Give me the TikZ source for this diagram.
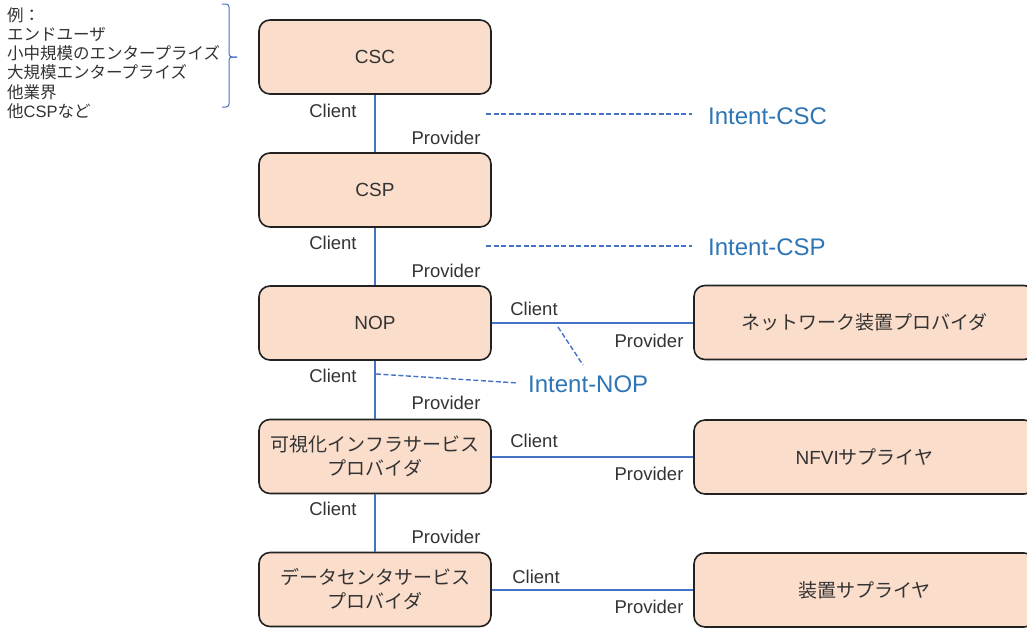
\documentclass[tikz,border=0pt]{standalone}
\usepackage{fontspec}
\setmainfont{Liberation Sans}
\newfontfamily\jp{Noto Sans CJK JP}
\definecolor{boxfill}{HTML}{FBDDCB}
\definecolor{boxline}{HTML}{222222}
\definecolor{linkblue}{HTML}{4472C4}
\definecolor{intentblue}{HTML}{2E75B6}
\definecolor{txt}{HTML}{333333}
\begin{document}
\begin{tikzpicture}[x=1pt,y=-1pt,
  actor/.style={draw=boxline, line width=1.6pt, fill=boxfill, rounded corners=11pt,
    minimum width=232pt, minimum height=74pt, inner sep=0pt, align=center,
    text=txt, font=\fontsize{19}{24}\selectfont},
  supplier/.style={actor, minimum width=341pt},
  link/.style={draw=linkblue, line width=1.6pt},
  intent/.style={draw=linkblue, line width=1.4pt, dash pattern=on 5pt off 2.5pt},
  role/.style={text=txt, inner sep=0pt, font=\fontsize{18.5}{22}\selectfont},
  intentlabel/.style={text=intentblue, inner sep=0pt, anchor=west, font=\fontsize{24}{28}\selectfont}]
\useasboundingbox (0,0) rectangle (1027,627);
\clip (0,0) rectangle (1027,627);

% provider chain
\node[actor] (csc) at (375,57) {CSC};
\node[actor] (csp) at (375,190) {CSP};
\node[actor] (nop) at (375,323) {NOP};
\node[actor] (vip) at (375,456.5) {{\jp 可視化インフラサービス}\\{\jp プロバイダ}};
\node[actor] (dcp) at (375,589.5) {{\jp データセンタサービス}\\{\jp プロバイダ}};

% suppliers
\node[supplier] (nep) at (864.5,322.5) {\jp ネットワーク装置プロバイダ};
\node[supplier] (nfvi) at (864.5,457) {NFVI{\jp サプライヤ}};
\node[supplier] (eqs) at (864.5,590) {\jp 装置サプライヤ};

% client/provider links
\draw[link] (csc) -- (csp);
\draw[link] (csp) -- (nop);
\draw[link] (nop) -- (vip);
\draw[link] (vip) -- (dcp);
\draw[link] (nop.east) -- (nop.east -| nep.west);
\draw[link] (vip.east |- nfvi.west) -- (nfvi.west);
\draw[link] (dcp.east |- eqs.west) -- (eqs.west);

% role labels
\node[role] (c1) at (333,111) {Client};
\node[role] (p1) at (446,138) {Provider};
\node[role] (c2) at (333,243) {Client};
\node[role] (p2) at (446,271) {Provider};
\node[role] (c3) at (333,376) {Client};
\node[role] (p3) at (446,403) {Provider};
\node[role] (c4) at (333,509) {Client};
\node[role] (p4) at (446,537) {Provider};
\node[role] (c5) at (534,309) {Client};
\node[role] (p5) at (649,341) {Provider};
\node[role] (c6) at (534,441) {Client};
\node[role] (p6) at (649,474) {Provider};
\node[role] (c7) at (536,577) {Client};
\node[role] (p7) at (649,607) {Provider};

% intents
\node[intentlabel] (icsc) at (708,116) {Intent-CSC};
\node[intentlabel] (icsp) at (708,247) {Intent-CSP};
\node[intentlabel] (inop) at (528,384) {Intent-NOP};
\coordinate (d1) at (486,114);
\coordinate (d2) at (486,246);
\coordinate (d3) at (376,374);
\coordinate (d3e) at (518,383);
\coordinate (d4) at (558,327);
\coordinate (d4e) at (583,365);
\draw[intent] (d1) -- ([xshift=-16pt]icsc.west |- d1);
\draw[intent] (d2) -- ([xshift=-16pt]icsp.west |- d2);
\draw[intent] (d3) -- (d3e);
\draw[intent] (d4) -- (d4e);

% examples of consumers
\node[anchor=west, align=left, inner sep=0pt, text=txt, font=\fontsize{16.5}{19.3}\selectfont] (ex) at (7,63)
  {{\jp 例：}\\{\jp エンドユーザ}\\{\jp 小中規模のエンタープライズ}\\{\jp 大規模エンタープライズ}\\{\jp 他業界}\\{\jp 他}CSP{\jp など}};
\draw[linkblue, line width=1pt, rounded corners=3pt] (222,4) -- (229,4) -- (229,57) -- (237,57);
\draw[linkblue, line width=1pt, rounded corners=3pt] (237,57) -- (229,57) -- (229,107) -- (222,107);
\end{tikzpicture}
\end{document}
